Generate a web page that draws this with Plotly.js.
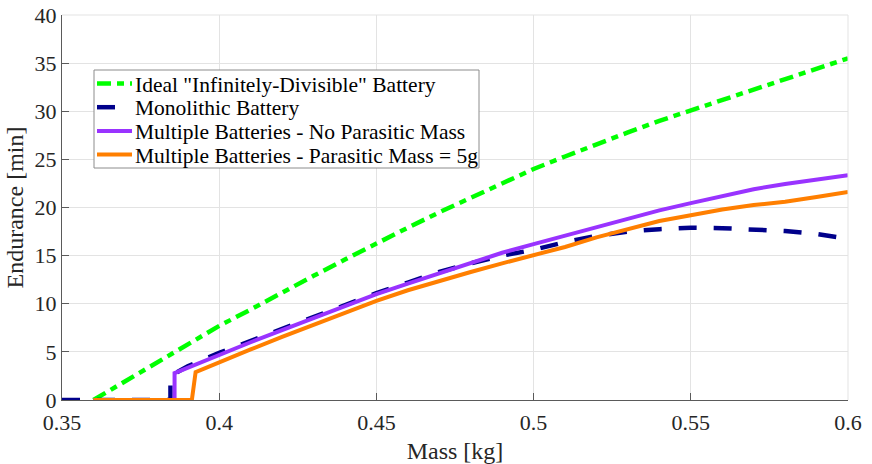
<!DOCTYPE html>
<html>
<head>
<meta charset="utf-8">
<script src="https://cdn.plot.ly/plotly-3.0.1.min.js"></script>
<style>
  html, body { margin: 0; padding: 0; background: #fff; }
  #chart { width: 872px; height: 464px; }
</style>
</head>
<body>
<div id="chart"></div>
<script>
// Endurance vs. take-off mass for different battery configurations

// Ideal "infinitely-divisible" battery
const massIdeal = [0.36, 0.37, 0.38, 0.39, 0.40, 0.41, 0.42, 0.43, 0.44, 0.45, 0.46, 0.47, 0.48,
                   0.49, 0.50, 0.51, 0.52, 0.53, 0.54, 0.55, 0.56, 0.57, 0.58, 0.59, 0.60];
const endIdeal  = [0, 1.9, 3.8, 5.8, 7.7, 9.4, 11.2, 12.9, 14.6, 16.3, 17.9, 19.5, 21.0,
                   22.5, 24.0, 25.3, 26.6, 27.8, 29.0, 30.1, 31.2, 32.3, 33.4, 34.5, 35.5];

// Single monolithic battery
const massMono = [0.35, 0.3845, 0.3845, 0.39, 0.40, 0.41, 0.42, 0.43, 0.44, 0.45, 0.46, 0.47, 0.48,
                  0.49, 0.50, 0.51, 0.52, 0.53, 0.54, 0.55, 0.56, 0.57, 0.58, 0.59, 0.60];
const endMono  = [0, 0, 2.5, 3.5, 4.9, 6.15, 7.4, 8.6, 9.8, 11.1, 12.2, 13.3, 14.2,
                  15.0, 15.6, 16.4, 17.05, 17.5, 17.75, 17.9, 17.85, 17.75, 17.55, 17.25, 16.75];

// Multiple batteries, no parasitic mass
const massMulti = [0.36, 0.3858, 0.3858, 0.39, 0.40, 0.41, 0.42, 0.43, 0.44, 0.45, 0.46, 0.47, 0.48,
                   0.49, 0.50, 0.51, 0.52, 0.53, 0.54, 0.55, 0.56, 0.57, 0.58, 0.59, 0.60];
const endMulti  = [0, 0, 2.8, 3.35, 4.75, 6.0, 7.25, 8.5, 9.7, 11.0, 12.1, 13.2, 14.3,
                   15.3, 16.2, 17.1, 18.0, 18.9, 19.7, 20.45, 21.2, 21.9, 22.45, 22.85, 23.35];

// Multiple batteries, 5 g parasitic mass per pack
const massParasitic = [0.36, 0.3913, 0.3925, 0.40, 0.41, 0.42, 0.43, 0.44, 0.45, 0.46, 0.47, 0.48,
                       0.49, 0.50, 0.51, 0.52, 0.53, 0.54, 0.55, 0.56, 0.57, 0.58, 0.59, 0.60];
const endParasitic  = [0, 0, 2.9, 3.95, 5.25, 6.55, 7.8, 9.05, 10.3, 11.4, 12.4, 13.3,
                       14.2, 15.0, 15.9, 16.9, 17.8, 18.6, 19.2, 19.8, 20.25, 20.6, 21.1, 21.6];

const seriesNames = [
  'Ideal "Infinitely-Divisible" Battery',
  'Monolithic Battery',
  'Multiple Batteries - No Parasitic Mass',
  'Multiple Batteries - Parasitic Mass = 5g'
];

const xTickVals = [0.35, 0.4, 0.45, 0.5, 0.55, 0.6];
const xTickText = ['0.35', '0.4', '0.45', '0.5', '0.55', '0.6'];
const yTickVals = [0, 5, 10, 15, 20, 25, 30, 35, 40];

const FONT = 'Liberation Serif';
const TXT = '#262626';
const colors = ['#00ff00', '#00008b', '#9933ff', '#ff7f00'];
const dashes = ['14px,6px,7px,6px', '18px,17px', 'solid', 'solid'];
const widths = [4.5, 4.5, 4, 4];

const traces = [
  { x: massIdeal, y: endIdeal },
  { x: massMono, y: endMono },
  { x: massMulti, y: endMulti },
  { x: massParasitic, y: endParasitic }
].map((d, i) => ({
  x: d.x, y: d.y, type: 'scatter', mode: 'lines', name: seriesNames[i],
  line: { color: colors[i], width: widths[i], dash: dashes[i] },
  showlegend: false, hoverinfo: 'x+y'
}));

// Plot-area geometry used for the hand-built legend (paper coordinates)
const W = 872, H = 464;
const margin = { l: 62, r: 24, t: 15, b: 64 };
const pw = W - margin.l - margin.r, ph = H - margin.t - margin.b;
const px = v => (v - margin.l) / pw;
const py = v => (H - margin.b - v) / ph;

const legendRows = [83.5, 107.2, 130.9, 154.6];
const legendSample = [[97, 132], [97, 119], [97, 132], [97, 132]];

const shapes = [
  // frame edges
  { type: 'line', xref: 'paper', yref: 'paper', x0: 0, x1: 1, y0: 1, y1: 1,
    line: { color: '#e3e3e3', width: 1 } },
  { type: 'line', xref: 'paper', yref: 'paper', x0: 1, x1: 1, y0: 0, y1: 1,
    line: { color: '#e3e3e3', width: 1 } },
  // legend box
  { type: 'rect', xref: 'paper', yref: 'paper',
    x0: px(94), x1: px(479), y0: py(168), y1: py(70),
    fillcolor: '#ffffff', line: { color: '#8c8c8c', width: 1 }, layer: 'above' }
];
legendRows.forEach((r, i) => {
  shapes.push({
    type: 'line', xref: 'paper', yref: 'paper',
    x0: px(legendSample[i][0]), x1: px(legendSample[i][1]), y0: py(r), y1: py(r),
    line: { color: colors[i], width: widths[i], dash: dashes[i] }, layer: 'above'
  });
});

const annotations = legendRows.map((r, i) => ({
  xref: 'paper', yref: 'paper', x: px(133), y: py(r + 1),
  xanchor: 'left', yanchor: 'middle', showarrow: false,
  text: seriesNames[i],
  font: { family: FONT, size: 21.5, color: '#000' }
}));

const layout = {
  width: W, height: H,
  margin: margin,
  paper_bgcolor: '#ffffff', plot_bgcolor: '#ffffff',
  font: { family: FONT, color: TXT },
  showlegend: false,
  xaxis: {
    range: [0.35, 0.6], tickvals: xTickVals, ticktext: xTickText,
    showgrid: true, gridcolor: '#e3e3e3', gridwidth: 1, zeroline: false,
    showline: true, linecolor: '#5a5a5a', linewidth: 1,
    ticks: 'inside', ticklen: 7, tickcolor: '#5a5a5a', ticklabelstandoff: 3,
    tickfont: { family: FONT, size: 22, color: TXT },
    title: { text: 'Mass [kg]', font: { family: FONT, size: 24, color: TXT }, standoff: 9 }
  },
  yaxis: {
    range: [0, 40], tickvals: yTickVals,
    showgrid: true, gridcolor: '#e3e3e3', gridwidth: 1, zeroline: false,
    showline: true, linecolor: '#5a5a5a', linewidth: 1,
    ticks: 'inside', ticklen: 7, tickcolor: '#5a5a5a',
    tickfont: { family: FONT, size: 22, color: TXT },
    title: { text: 'Endurance [min]', font: { family: FONT, size: 24, color: TXT }, standoff: 4 }
  },
  shapes: shapes,
  annotations: annotations
};

Plotly.newPlot('chart', traces, layout, { displayModeBar: false, staticPlot: true });
</script>
</body>
</html>
